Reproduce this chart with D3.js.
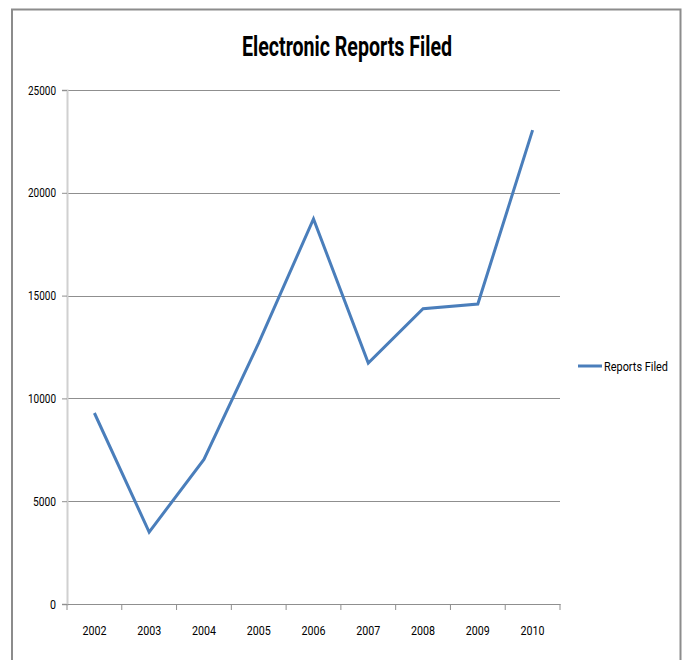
<!DOCTYPE html>
<html>
<head>
<meta charset="utf-8">
<script src="https://cdn.jsdelivr.net/npm/d3@7"></script>
<style>
html,body{margin:0;padding:0;background:#fff;}
svg{display:block;}
</style>
</head>
<body>
<script>
const years = ["2002","2003","2004","2005","2006","2007","2008","2009","2010"];
const reportsFiled = [9290, 3500, 7030, 12700, 18730, 11720, 14360, 14590, 23050];
const yTicks = [0, 5000, 10000, 15000, 20000, 25000];
const seriesName = "Reports Filed";
const title = "Electronic Reports Filed";

const W = 686, H = 660;
const font = "'Liberation Sans Narrow','Arial Narrow',Roboto,sans-serif";
const svg = d3.select("body").append("svg").attr("width", W).attr("height", H);

// outer chart border
svg.append("rect").attr("x", 12).attr("y", 9.5).attr("width", 668.5).attr("height", 660)
  .attr("fill", "#fff").attr("stroke", "#8c8c8c").attr("stroke-width", 2);

const plot = {left: 67, right: 560, top: 90, bottom: 604};

const x = d3.scaleBand().domain(years).range([plot.left, plot.right]).padding(0);
const y = d3.scaleLinear().domain([0, 25000]).range([plot.bottom, plot.top]);

// gridlines
svg.append("g").selectAll("line").data(yTicks.filter(d => d > 0)).join("line")
  .attr("x1", plot.left).attr("x2", plot.right)
  .attr("y1", d => Math.round(y(d)) + 0.5).attr("y2", d => Math.round(y(d)) + 0.5)
  .attr("stroke", "#8f8f8f").attr("stroke-width", 1);

// y axis
const yAxis = svg.append("g").attr("transform", `translate(${plot.left},0)`)
  .call(d3.axisLeft(y).tickValues(yTicks).tickSize(5).tickPadding(6).tickFormat(d3.format("d")));
yAxis.select(".domain").attr("stroke", "#d0d0d0").attr("stroke-width", 2);
yAxis.selectAll(".tick line").attr("stroke", "#8f8f8f");
yAxis.selectAll("text").attr("font-family", font).attr("font-size", 13).attr("fill", "#000")
  .attr("textLength", 28).attr("lengthAdjust", "spacingAndGlyphs");
yAxis.selectAll(".tick text").filter(d => d < 10000).attr("textLength", d => d === 0 ? 6 : 23);

// x axis
const xAxis = svg.append("g").attr("transform", `translate(0,${plot.bottom})`)
  .call(d3.axisBottom(x).tickSize(0).tickPadding(22));
xAxis.select(".domain").attr("stroke", "#8f8f8f").attr("stroke-width", 1);
xAxis.selectAll("text").attr("font-family", font).attr("font-size", 13).attr("fill", "#000")
  .attr("textLength", 24).attr("lengthAdjust", "spacingAndGlyphs");
// category boundary ticks
const bounds = years.map(d => x(d)).concat([x(years[years.length-1]) + x.bandwidth()]);
svg.append("g").selectAll("line").data(bounds).join("line")
  .attr("x1", d => d).attr("x2", d => d)
  .attr("y1", plot.bottom).attr("y2", plot.bottom + 6)
  .attr("stroke", "#8f8f8f").attr("stroke-width", 1);

// line
const line = d3.line().x((d, i) => x(years[i]) + x.bandwidth() / 2).y(d => y(d));
svg.append("path").datum(reportsFiled).attr("d", line)
  .attr("fill", "none").attr("stroke", "#4a7ebb").attr("stroke-width", 3)
  .attr("stroke-linejoin", "miter");

// title
svg.append("text").attr("x", 347).attr("y", 56).attr("text-anchor", "middle")
  .attr("font-family", font).attr("font-weight", "bold").attr("font-size", 28)
  .attr("textLength", 210).attr("lengthAdjust", "spacingAndGlyphs")
  .attr("fill", "#000").text(title);

// legend
const lg = svg.append("g").attr("transform", "translate(578,366)");
lg.append("line").attr("x1", 0).attr("x2", 24).attr("y1", 0).attr("y2", 0)
  .attr("stroke", "#4a7ebb").attr("stroke-width", 3);
lg.append("text").attr("x", 26).attr("y", 5).attr("font-family", font).attr("font-size", 13)
  .attr("textLength", 64).attr("lengthAdjust", "spacingAndGlyphs")
  .attr("fill", "#000").text(seriesName);
</script>
</body>
</html>
